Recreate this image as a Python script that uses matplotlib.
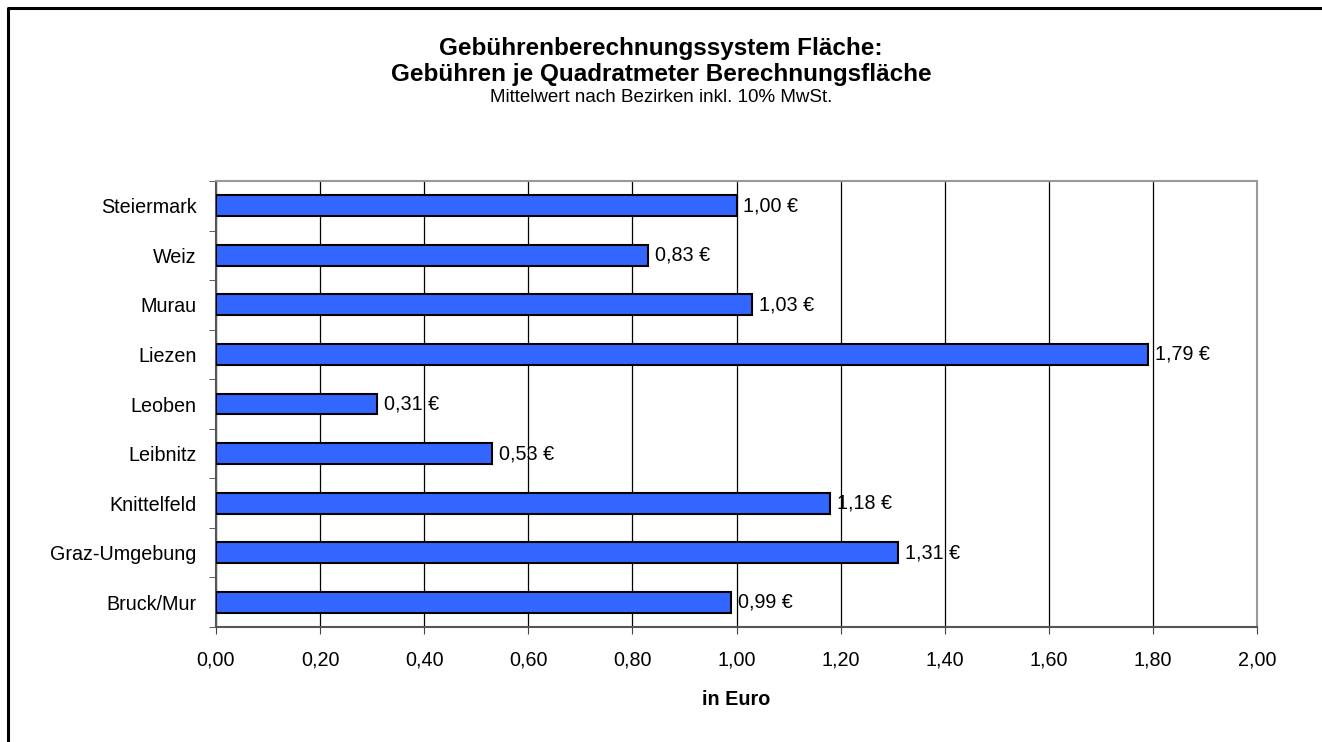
import matplotlib.pyplot as plt
import matplotlib.lines as mlines
import numpy as np

plt.rcParams['font.family'] = ['Liberation Sans', 'DejaVu Sans']

regions = ["Bruck/Mur", "Graz-Umgebung", "Knittelfeld", "Leibnitz", "Leoben",
           "Liezen", "Murau", "Weiz", "Steiermark"]
values = [0.99, 1.31, 1.18, 0.53, 0.31, 1.79, 1.03, 0.83, 1.00]
xticks = [0.0, 0.2, 0.4, 0.6, 0.8, 1.0, 1.2, 1.4, 1.6, 1.8, 2.0]

fs = 14.2

fig = plt.figure(figsize=(13.22, 7.42), dpi=100)
# outer frame (only left and top edges visible in the crop)
fig.lines.append(mlines.Line2D([7.5 / 1322, 7.5 / 1322, 1.0], [0.0, 1 - 7.5 / 742, 1 - 7.5 / 742],
                               transform=fig.transFigure, color='black', linewidth=2.2))

ax = fig.add_axes([216 / 1322, 115 / 742, 1041 / 1322, 446 / 742])
y = np.arange(len(regions))
ax.barh(y, values, height=0.42, color='#3366FF', edgecolor='black', linewidth=1.5, zorder=3)
for yi, v in zip(y, values):
    ax.annotate(f"{v:.2f} €".replace('.', ','), (v, yi), xytext=(5, 0), textcoords='offset points',
                va='center', ha='left', fontsize=fs, zorder=4)

ax.set_xlim(0, 2.0)
ax.set_ylim(-0.5, len(regions) - 0.5)
ax.set_xticks(xticks)
ax.set_xticklabels([f"{t:.2f}".replace('.', ',') for t in xticks], fontsize=fs)
ax.set_yticks(y)
ax.set_yticklabels(regions, fontsize=fs)
ax.tick_params(axis='y', length=0, pad=14)
ax.set_yticks(np.arange(-0.5, len(regions), 1.0), minor=True)
ax.tick_params(axis='y', which='minor', length=5, direction='out', color='#444444')
ax.tick_params(axis='x', length=5, direction='out', color='#444444', pad=12)
ax.xaxis.grid(True, color='black', linewidth=0.9, zorder=0)

for s in ['top', 'right']:
    ax.spines[s].set_color('#999999')
    ax.spines[s].set_linewidth(1.5)
for s in ['left', 'bottom']:
    ax.spines[s].set_color('#555555')
    ax.spines[s].set_linewidth(1.5)

ax.set_xlabel("in Euro", fontsize=fs, fontweight='bold', labelpad=15)

fig.text(0.5, 1 - 48 / 742, "Gebührenberechnungssystem Fläche:", ha='center', va='center',
         fontsize=17.5, fontweight='bold')
fig.text(0.5, 1 - 74 / 742, "Gebühren je Quadratmeter Berechnungsfläche", ha='center', va='center',
         fontsize=17.5, fontweight='bold')
fig.text(0.5, 1 - 97 / 742, "Mittelwert nach Bezirken inkl. 10% MwSt.", ha='center', va='center',
         fontsize=13.5)

fig.savefig("out.png", dpi=100)
